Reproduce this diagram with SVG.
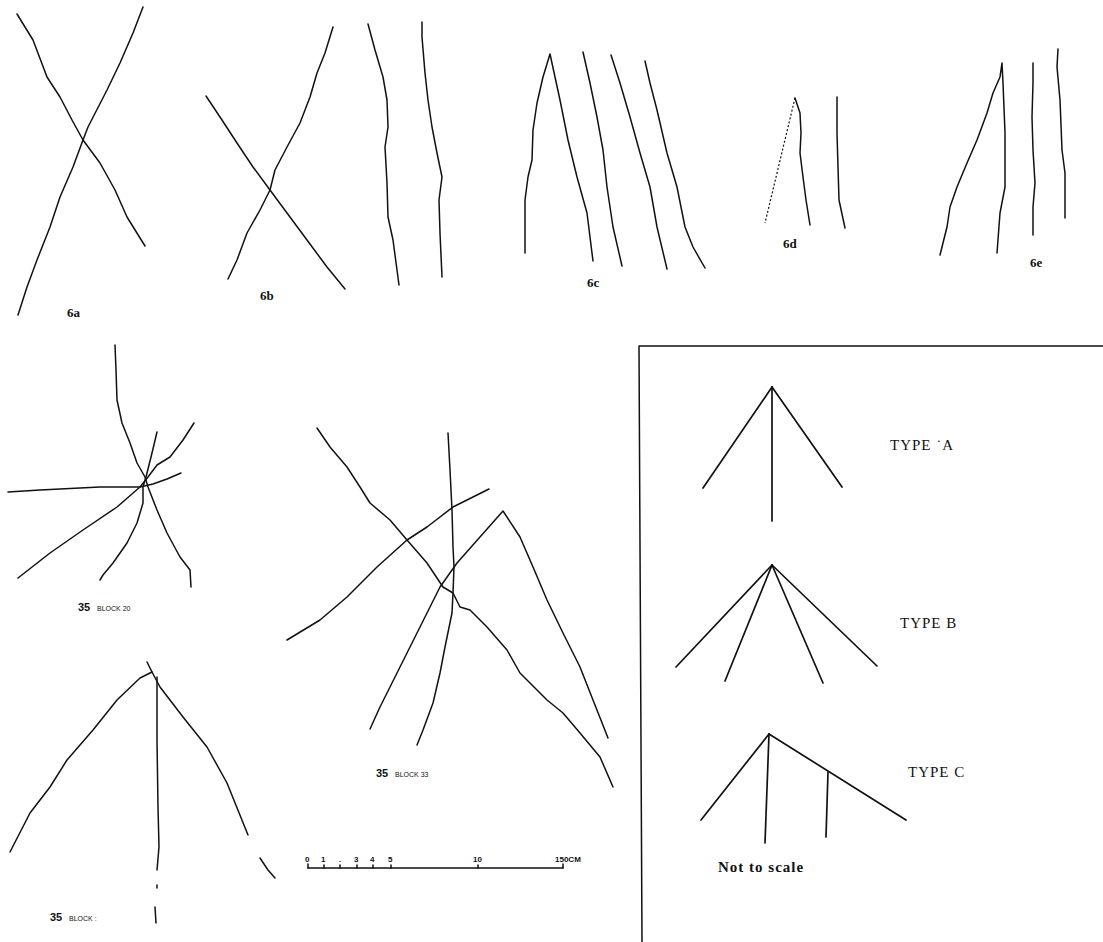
<svg xmlns="http://www.w3.org/2000/svg" width="1103" height="942" viewBox="0 0 1103 942">
<style>
.s{fill:none;stroke:#111;stroke-width:1.5;stroke-linejoin:round;stroke-linecap:round}
.t{fill:none;stroke:#111;stroke-width:1.7;stroke-linecap:round}
.d{fill:none;stroke:#111;stroke-width:1.2;stroke-dasharray:2 2}
.lb{font-family:"Liberation Serif",serif;font-weight:bold;font-size:13px;fill:#111}
.bn{font-family:"Liberation Sans",sans-serif;font-weight:bold;font-size:11px;fill:#111}
.bs{font-family:"Liberation Sans",sans-serif;font-size:7px;fill:#111}
.ty{font-family:"Liberation Serif",serif;font-size:15px;fill:#111;letter-spacing:1px}
.sc{font-family:"Liberation Sans",sans-serif;font-weight:bold;font-size:8px;fill:#111}
</style>
<rect width="1103" height="942" fill="#fff"/>
<g id="fig6a">
<polyline class="s" points="17,14 33,40 47,77 60,97 72,120 83,140 100,163 115,190 127,217 145,246"/>
<polyline class="s" points="143,7 133,33 120,63 107,90 88,127 83,140 73,167 60,197 50,227 37,260 27,287 18,315"/>
<text class="lb" x="67" y="317">6a</text>
</g>
<g id="fig6b">
<polyline class="s" points="333,27 325,53 317,73 310,97 300,123 287,147 275,170 270,190 260,210 247,233 237,260 228,279"/>
<polyline class="s" points="206,96 220,117 237,143 253,167 270,190 287,213 307,240 327,267 345,289"/>
<polyline class="s" points="368,24 375,50 383,77 387,100 388,127 385,147 387,183 388,217 393,240 399,285"/>
<polyline class="s" points="422,22 422,37 425,73 428,100 432,127 437,153 442,177 439,200 440,233 442,277"/>
<text class="lb" x="260" y="300">6b</text>
</g>
<g id="fig6c">
<polyline class="s" points="525,253 525,200 528,177 532,160 533,130 537,103 543,77 550,54 560,100 568,140 577,177 587,213 593,261"/>
<polyline class="s" points="583,52 590,83 597,117 603,150 607,187 613,227 622,266"/>
<polyline class="s" points="611,55 620,83 630,117 640,153 650,187 657,227 667,269"/>
<polyline class="s" points="645,61 650,83 657,110 667,153 677,187 685,227 693,247 705,268"/>
<text class="lb" x="587" y="287">6c</text>
</g>
<g id="fig6d">
<line class="d" x1="795" y1="98" x2="765" y2="223"/>
<polyline class="s" points="795,98 800,113 801,133 800,153 803,177 806,200 810,225"/>
<polyline class="s" points="837,97 837,133 838,167 839,200 845,228"/>
<text class="lb" x="783" y="248">6d</text>
</g>
<g id="fig6e">
<polyline class="s" points="940,255 947,227 950,207 957,187 967,163 977,140 987,113 993,93 1000,77 1002,63 1003,83 1005,133 1005,187 1000,213 997,253"/>
<polyline class="s" points="1033,63 1033,83 1032,117 1033,150 1035,183 1033,207 1033,235"/>
<polyline class="s" points="1058,49 1057,67 1060,100 1062,150 1065,173 1065,218"/>
<text class="lb" x="1030" y="267">6e</text>
</g>
<g id="block20">
<polyline class="s" points="115,345 116,370 117,400 122,423 130,443 137,463 145,477 148,487 157,510 167,533 180,557 190,570 191,587"/>
<polyline class="s" points="157,432 152,453 146,477 143,487 143,503 137,523 127,543 113,563 103,575 100,580"/>
<polyline class="s" points="194,423 183,440 170,457 157,465 148,477 140,487 117,507 83,530 50,553 18,578"/>
<polyline class="s" points="8,492 40,490 100,487 140,487 153,484 167,479 181,473"/>
<text class="bn" x="78" y="611">35</text>
<text class="bs" x="97" y="611">BLOCK 20</text>
</g>
<g id="block33">
<polyline class="s" points="317,428 330,447 347,467 360,487 370,503 390,520 407,540 427,563 443,587 453,593 460,607 470,610 487,627 507,650 520,673 547,700 563,713 580,733 600,757 613,787"/>
<polyline class="s" points="448,433 450,470 452,510 453,547 454,567 453,593 452,613 445,647 440,673 433,703 423,730 417,745"/>
<polyline class="s" points="287,640 320,620 347,597 377,567 407,540 427,527 453,507 489,489"/>
<polyline class="s" points="370,729 380,707 397,673 417,633 440,587 457,563 480,537 503,511 520,537 533,567 547,600 563,633 580,667 593,700 608,738"/>
<text class="bn" x="376" y="777">35</text>
<text class="bs" x="395" y="777">BLOCK 33</text>
</g>
<g id="blockX">
<polyline class="s" points="147,662 152,672"/>
<polyline class="s" points="152,672 140,678 117,700 93,730 67,760 50,787 30,813 10,852"/>
<polyline class="s" points="157,677 157,740 158,807 159,847 157,870"/>
<line class="s" x1="157" y1="885" x2="157" y2="888"/>
<line class="s" x1="155" y1="907" x2="156" y2="923"/>
<polyline class="s" points="152,672 160,687 183,717 207,747 227,783 248,835"/>
<polyline class="s" points="260,858 268,870 275,878"/>
<text class="bn" x="50" y="921">35</text>
<text class="bs" x="69" y="921">BLOCK :</text>
</g>
<g id="scalebar">
<line class="s" x1="308" y1="868" x2="563" y2="868" stroke-width="1.2"/>
<g class="s" stroke-width="1">
<line x1="308" y1="864" x2="308" y2="868"/>
<line x1="324" y1="865" x2="324" y2="868"/>
<line x1="340" y1="865" x2="340" y2="868"/>
<line x1="357" y1="865" x2="357" y2="868"/>
<line x1="373" y1="865" x2="373" y2="868"/>
<line x1="391" y1="865" x2="391" y2="868"/>
<line x1="478" y1="865" x2="478" y2="868"/>
<line x1="563" y1="864" x2="563" y2="868"/>
</g>
<text class="sc" x="305" y="862">0</text>
<text class="sc" x="321" y="862">1</text>
<text class="sc" x="339" y="862">.</text>
<text class="sc" x="354" y="862">3</text>
<text class="sc" x="370" y="862">4</text>
<text class="sc" x="388" y="862">5</text>
<text class="sc" x="473" y="862">10</text>
<text class="sc" x="555" y="862">150CM</text>
</g>
<g id="legend">
<polyline class="s" points="1103,346 639,346 642,942" stroke-width="1.3"/>
<g id="typeA">
<line class="t" x1="772" y1="387" x2="703" y2="488"/>
<line class="t" x1="772" y1="387" x2="842" y2="487"/>
<line class="t" x1="772" y1="387" x2="772" y2="521"/>
<text class="ty" x="890" y="450">TYPE ˙A</text>
</g>
<g id="typeB">
<line class="t" x1="772" y1="565" x2="676" y2="667"/>
<line class="t" x1="772" y1="565" x2="725" y2="681"/>
<line class="t" x1="772" y1="565" x2="823" y2="683"/>
<line class="t" x1="772" y1="565" x2="877" y2="666"/>
<text class="ty" x="900" y="628">TYPE B</text>
</g>
<g id="typeC">
<line class="t" x1="769" y1="734" x2="701" y2="820"/>
<line class="t" x1="769" y1="734" x2="765" y2="843" stroke-width="2.2"/>
<line class="t" x1="769" y1="734" x2="906" y2="820"/>
<line class="t" x1="828" y1="772" x2="826" y2="837" stroke-width="2"/>
<text class="ty" x="908" y="777">TYPE C</text>
</g>
<text class="ty" x="718" y="872" font-weight="bold" font-size="15" letter-spacing="0">Not to scale</text>
</g>
</svg>
